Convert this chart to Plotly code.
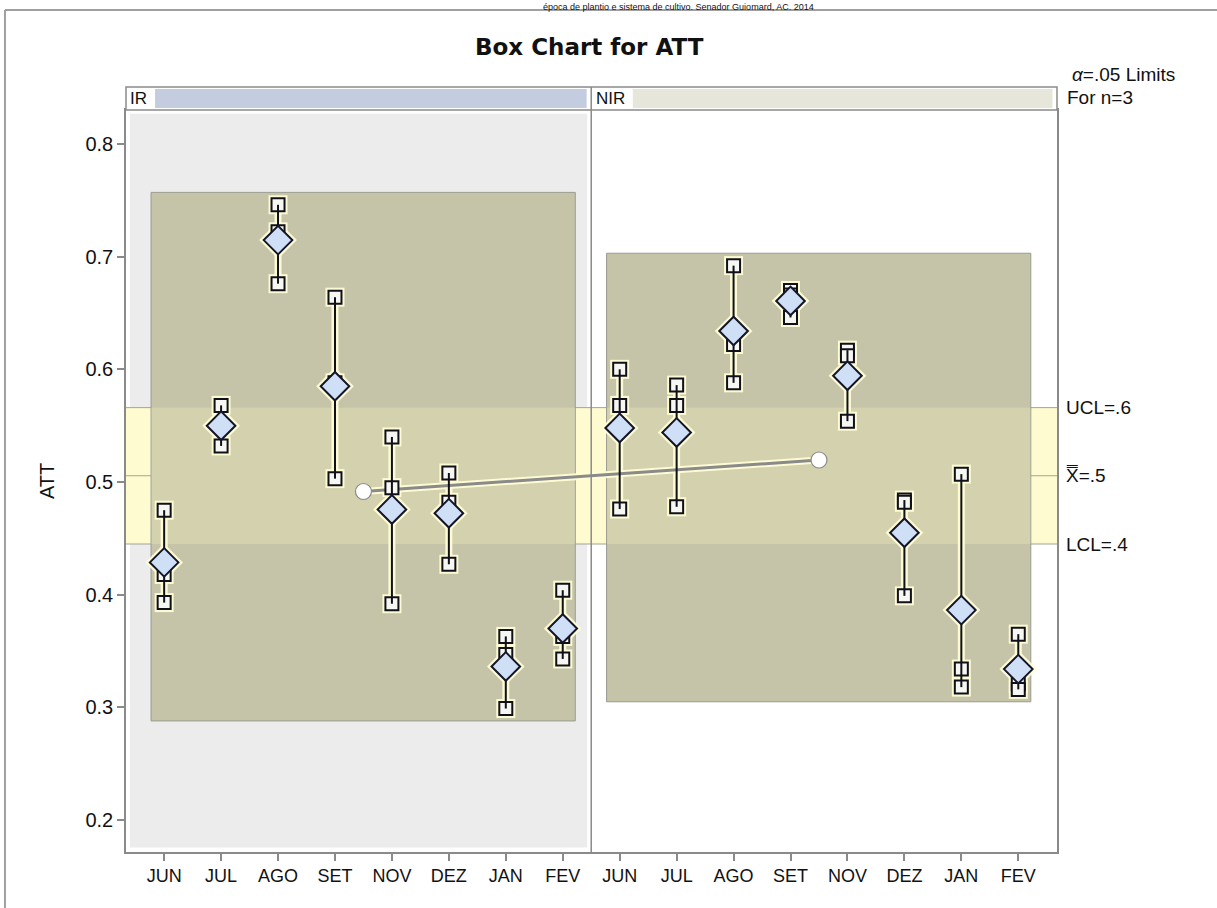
import plotly.graph_objects as go

# ---------------- data ----------------
months = ["JUN", "JUL", "AGO", "SET", "NOV", "DEZ", "JAN", "FEV"]
phases = ["IR", "NIR"]

ir_obs1 = [0.475, 0.568, 0.746, 0.664, 0.540, 0.508, 0.363, 0.404]
ir_obs2 = [0.418, 0.550, 0.722, 0.588, 0.495, 0.482, 0.347, 0.363]
ir_obs3 = [0.393, 0.532, 0.676, 0.503, 0.392, 0.427, 0.299, 0.343]

nir_obs1 = [0.600, 0.586, 0.692, 0.670, 0.617, 0.484, 0.507, 0.365]
nir_obs2 = [0.568, 0.568, 0.622, 0.666, 0.612, 0.482, 0.334, 0.321]
nir_obs3 = [0.476, 0.478, 0.588, 0.646, 0.554, 0.399, 0.318, 0.316]

UCL = 0.566
LCL = 0.445
limit_labels = ["UCL=.6", "X\u033F=.5", "LCL=.4"]

# ---------------- derived ----------------
obs_sets = [(ir_obs1, ir_obs2, ir_obs3), (nir_obs1, nir_obs2, nir_obs3)]
n_per = len(months)
xs, sq_x, sq_y, means, vx, vy = [], [], [], [], [], []
phase_means, phase_x, ranges = [], [], []
for p, (a, b, c) in enumerate(obs_sets):
    pm = []
    for i in range(n_per):
        x = p * n_per + i
        vals = [a[i], b[i], c[i]]
        m = sum(vals) / 3
        xs.append(x)
        means.append(m)
        pm.append(m)
        for v in vals:
            sq_x.append(x)
            sq_y.append(v)
        vx += [x, x, None]
        vy += [min(vals), max(vals), None]
    phase_means.append(sum(pm) / len(pm))
    phase_x.append(p * n_per + (n_per - 1) / 2)
    allv = list(a) + list(b) + list(c)
    ranges.append((min(allv), max(allv)))
center = sum(phase_means) / len(phase_means)
ticktext = months + months

YR = [0.1717, 0.8301]
XR = [-0.67, 15.68]

fig = go.Figure()

HALO = "rgba(255,253,214,0.95)"
# halos
fig.add_trace(go.Scatter(x=vx, y=vy, mode="lines", line=dict(color=HALO, width=7),
                         hoverinfo="skip", showlegend=False))
fig.add_trace(go.Scatter(x=phase_x, y=phase_means, mode="lines", line=dict(color=HALO, width=7),
                         hoverinfo="skip", showlegend=False))
fig.add_trace(go.Scatter(x=sq_x, y=sq_y, mode="markers",
                         marker=dict(symbol="square", size=19, color=HALO, line=dict(width=0)),
                         hoverinfo="skip", showlegend=False))
fig.add_trace(go.Scatter(x=xs, y=means, mode="markers",
                         marker=dict(symbol="diamond", size=29, color=HALO, line=dict(width=0)),
                         hoverinfo="skip", showlegend=False))
# phase mean line + circles
fig.add_trace(go.Scatter(x=phase_x, y=phase_means, mode="lines+markers",
                         line=dict(color="#8a8a8a", width=3),
                         marker=dict(symbol="circle", size=16, color="white",
                                     line=dict(color="#8a8a8a", width=1.2)),
                         showlegend=False))
# squares (observations)
fig.add_trace(go.Scatter(x=sq_x, y=sq_y, mode="markers",
                         marker=dict(symbol="square", size=13, color="#f6f6f3",
                                     line=dict(color="#101018", width=2)),
                         showlegend=False))
# vertical range lines
fig.add_trace(go.Scatter(x=vx, y=vy, mode="lines", line=dict(color="#101018", width=2),
                         hoverinfo="skip", showlegend=False))
# diamonds (means)
fig.add_trace(go.Scatter(x=xs, y=means, mode="markers",
                         marker=dict(symbol="diamond", size=22, color="#cfe0f6",
                                     line=dict(color="#15152a", width=2)),
                         showlegend=False))

shapes = []
# IR panel gray background
shapes.append(dict(type="rect", xref="x", yref="paper", x0=-0.6, x1=7.43, y0=0.006, y1=0.995,
                   fillcolor="#ececec", line=dict(width=0), layer="below"))
# control band
shapes.append(dict(type="rect", xref="paper", yref="y", x0=0, x1=1, y0=LCL, y1=UCL,
                   fillcolor="#fffbd0", line=dict(width=0), layer="below"))
# olive blocks per phase
pad = 0.011
for p, (lo, hi) in enumerate(ranges):
    x0 = p * n_per - 0.23
    x1 = p * n_per + n_per - 1 + 0.22
    y0, y1 = lo - pad, hi + pad
    shapes.append(dict(type="rect", xref="x", yref="y", x0=x0, x1=x1, y0=y0, y1=y1,
                       fillcolor="#c5c4a8", line=dict(color="#9a9a90", width=1), layer="below"))
    shapes.append(dict(type="rect", xref="x", yref="y", x0=x0 + 0.01, x1=x1 - 0.01,
                       y0=max(y0, LCL), y1=min(y1, UCL),
                       fillcolor="#d3d1ae", line=dict(width=0), layer="below"))
# limit lines
for v in (UCL, center, LCL):
    shapes.append(dict(type="line", xref="paper", yref="y", x0=0, x1=1, y0=v, y1=v,
                       line=dict(color="#a3a393", width=1), layer="below"))
# strip
strip_top = 1 + 23 / 742
shapes.append(dict(type="rect", xref="paper", yref="paper", x0=0, x1=1, y0=1, y1=strip_top,
                   fillcolor="white", line=dict(color="#8a8a8a", width=1.5)))
shapes.append(dict(type="rect", xref="x", yref="paper", x0=-0.16, x1=7.42,
                   y0=1 + 2 / 742, y1=strip_top - 2 / 742,
                   fillcolor="#c4cde0", line=dict(width=0)))
shapes.append(dict(type="rect", xref="x", yref="paper", x0=8.23, x1=15.6,
                   y0=1 + 2 / 742, y1=strip_top - 2 / 742,
                   fillcolor="#e6e6da", line=dict(width=0)))
# divider
shapes.append(dict(type="line", xref="x", yref="paper", x0=7.5, x1=7.5, y0=0, y1=strip_top,
                   line=dict(color="#8a8a8a", width=1.5)))
# outer frame of the page
shapes.append(dict(type="line", xref="paper", yref="paper", x0=-0.13, x1=1.2,
                   y0=1 + 100 / 742, y1=1 + 100 / 742, line=dict(color="#a0a0a0", width=2)))
shapes.append(dict(type="line", xref="paper", yref="paper", x0=-0.13, x1=-0.13,
                   y0=1 + 100 / 742, y1=-0.1, line=dict(color="#a0a0a0", width=2)))

FONT = "Liberation Sans, Arial"
annotations = []
annotations.append(dict(text="época de plantio e sistema de cultivo. Senador Guiomard, AC. 2014",
                        xref="paper", yref="paper", x=(678 - 126) / 931, y=1 + 110 / 742,
                        xanchor="center", yanchor="top", showarrow=False,
                        font=dict(family=FONT, size=9, color="#111")))
annotations.append(dict(text="<b>Box Chart for ATT</b>", xref="paper", yref="paper",
                        x=(589 - 126) / 931, y=1 + 63 / 742, xanchor="center", yanchor="middle",
                        showarrow=False, font=dict(family="DejaVu Sans", size=23, color="#111")))
annotations.append(dict(text="<i>α</i>=.05 Limits", xref="paper", yref="paper",
                        x=(1070 - 126) / 931, y=1 + 36 / 742, xanchor="left", yanchor="middle",
                        showarrow=False, font=dict(family=FONT, size=19, color="#111")))
annotations.append(dict(text="For n=3", xref="paper", yref="paper",
                        x=(1065 - 126) / 931, y=1 + 13 / 742, xanchor="left", yanchor="middle",
                        showarrow=False, font=dict(family=FONT, size=19, color="#111")))
annotations.append(dict(text="IR", xref="paper", yref="paper", x=(128 - 126) / 931,
                        y=1 + 11.5 / 742, xanchor="left", yanchor="middle", showarrow=False,
                        font=dict(family="Liberation Sans Narrow, Liberation Sans", size=17, color="#111")))
annotations.append(dict(text="NIR", xref="paper", yref="paper", x=(594 - 126) / 931,
                        y=1 + 11.5 / 742, xanchor="left", yanchor="middle", showarrow=False,
                        font=dict(family="Liberation Sans Narrow, Liberation Sans", size=17, color="#111")))
for lab, v in zip(limit_labels, (UCL, center, LCL)):
    annotations.append(dict(text=lab, xref="paper", yref="y", x=(1064 - 126) / 931, y=v,
                            xanchor="left", yanchor="middle", showarrow=False,
                            font=dict(family="Liberation Sans, DejaVu Sans", size=19, color="#111")))
annotations.append(dict(text="ATT", xref="paper", yref="paper", x=(47 - 126) / 931, y=0.5,
                        xanchor="center", yanchor="middle", textangle=-90, showarrow=False,
                        font=dict(family=FONT, size=20, color="#111")))

fig.update_layout(
    width=1217, height=908,
    margin=dict(l=126, r=160, t=110, b=56, pad=0),
    paper_bgcolor="white", plot_bgcolor="white",
    shapes=shapes, annotations=annotations, showlegend=False,
    xaxis=dict(range=XR, tickmode="array", tickvals=list(range(len(ticktext))), ticktext=ticktext,
               showgrid=False, zeroline=False, showline=True, linecolor="#8a8a8a", linewidth=1.5,
               mirror=True, ticks="outside", ticklen=7, tickcolor="#8a8a8a", tickwidth=1.5,
               tickfont=dict(family=FONT, size=18, color="#111")),
    yaxis=dict(range=YR, tickmode="array", tickvals=[0.2, 0.3, 0.4, 0.5, 0.6, 0.7, 0.8],
               ticktext=["0.2", "0.3", "0.4", "0.5", "0.6", "0.7", "0.8"],
               showgrid=False, zeroline=False, showline=True, linecolor="#8a8a8a", linewidth=1.5,
               mirror=True, ticks="outside", ticklen=7, tickcolor="#8a8a8a", tickwidth=1.5,
               tickfont=dict(family=FONT, size=20, color="#111")),
)

fig.write_html("out.html", config={"displayModeBar": False},
               post_script="document.body.style.margin='0';")
